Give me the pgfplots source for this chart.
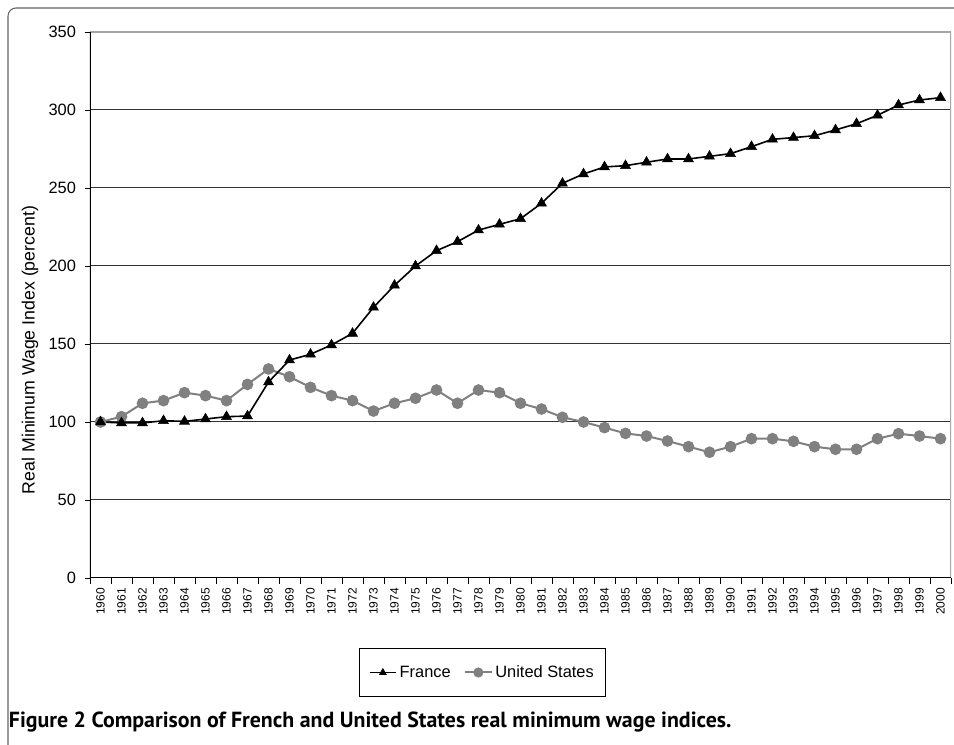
\documentclass[border=0pt]{standalone}
\usepackage{pgfplots}
\pgfplotsset{compat=1.18}
\usepackage{fontspec}
\setmainfont{Liberation Sans}
\newfontfamily\capfont{PT Sans}
\definecolor{usgray}{HTML}{808080}
\definecolor{gridc}{HTML}{333333}
\definecolor{framec}{HTML}{A6A6A6}
\begin{document}
\begin{tikzpicture}
\path[use as bounding box] (-67.5pt,-125.25pt) rectangle (648pt,433.5pt);
% outer frame (left and top edges)
\draw[color=gray!80!black, line width=0.8pt, rounded corners=6pt] (-61.5pt,-125.25pt) -- (-61.5pt,427.5pt) -- (648pt,427.5pt);
\begin{axis}[
  scale only axis,
  width=645.75pt, height=409.5pt,
  xmin=1959.5, xmax=2000.5,
  ymin=0, ymax=350,
  axis line style={draw=none},
  ytick={0,50,...,300},
  extra y ticks={350},
  extra y tick style={grid=none},
  ymajorgrids,
  grid style={color=gridc, line width=0.75pt},
  xtick={1960,...,2000},
  minor xtick={1959.5,1960.5,...,2000.5},
  major x tick style={draw=none},
  minor x tick style={black, line width=0.6pt},
  minor tick length=4.5pt,
  major tick length=4pt,
  y tick style={black, line width=0.6pt},
  tick align=outside,
  tick pos=left,
  /pgf/number format/assume math mode=true,
  /pgf/number format/1000 sep={},
  xticklabel style={font=\fontsize{9}{10}\selectfont, rotate=90, anchor=east, xshift=0pt},
  yticklabel style={font=\fontsize{12.3}{14}\selectfont, xshift=-3pt},
  ylabel={Real Minimum Wage Index (percent)},
  ylabel style={font=\fontsize{13.3}{15}\selectfont, at={(axis description cs:-0.0697,0.4176)}, anchor=center},
  legend columns=2,
  reverse legend,
  legend style={at={(axis description cs:0.456,-0.128)}, anchor=north,
    draw=black, line width=0.5pt, font=\fontsize{12.3}{14}\selectfont,
    inner xsep=7pt, inner ysep=11pt,
    /tikz/every even column/.append style={column sep=8pt}},
  legend image code/.code={\draw[#1] (0pt,0pt) -- (20pt,0pt); \draw[#1, only marks, mark size=3pt] plot coordinates {(10pt,0pt)};},
]
\addplot[color=usgray, line width=1.5pt, mark=*, mark size=3.6pt, mark options={fill=usgray, draw=usgray}] coordinates {
(1960,100) (1961,103.4) (1962,112) (1963,113.7) (1964,118.8) (1965,116.9) (1966,113.7) (1967,124.1) (1968,134) (1969,129) (1970,122.2) (1971,116.9) (1972,113.7) (1973,107) (1974,112) (1975,115.2) (1976,120.5) (1977,112) (1978,120.5) (1979,118.8) (1980,112) (1981,108.3) (1982,103) (1983,100) (1984,96.4) (1985,92.7) (1986,91) (1987,87.8) (1988,84.2) (1989,80.6) (1990,84.2) (1991,89.3) (1992,89.3) (1993,87.6) (1994,84.2) (1995,82.5) (1996,82.5) (1997,89.3) (1998,92.5) (1999,91) (2000,89.3)
};
\addlegendentry{United States}
\addplot[color=black, line width=1.2pt, mark=triangle*, mark size=4.3pt, mark options={fill=black, line width=0.4pt}] coordinates {
(1960,100) (1961,99.4) (1962,99.4) (1963,100.8) (1964,100.4) (1965,101.9) (1966,103.4) (1967,103.8) (1968,125.6) (1969,139.7) (1970,143.4) (1971,149.4) (1972,156.8) (1973,173.5) (1974,187.6) (1975,200) (1976,209.8) (1977,215.6) (1978,223) (1979,226.7) (1980,230.3) (1981,240.2) (1982,253) (1983,259) (1984,263.5) (1985,264.3) (1986,266.5) (1987,268.6) (1988,268.6) (1989,270.3) (1990,272) (1991,276.5) (1992,281.2) (1993,282.3) (1994,283.5) (1995,287.2) (1996,291.2) (1997,296.6) (1998,303.2) (1999,306.4) (2000,307.9)
};
\addlegendentry{France}
\draw[color=framec, line width=1pt] (rel axis cs:0,1) -- (rel axis cs:1,1) -- (rel axis cs:1,0);
\draw[color=black, line width=0.9pt] (rel axis cs:0,1) -- (rel axis cs:0,0) -- (rel axis cs:1,0);
\end{axis}
\node[anchor=west, inner sep=0pt] at (-61pt,-108pt) {\capfont\bfseries\fontsize{16.4}{18}\selectfont Figure 2 Comparison of French and United States real minimum wage indices.};
\end{tikzpicture}
\end{document}
